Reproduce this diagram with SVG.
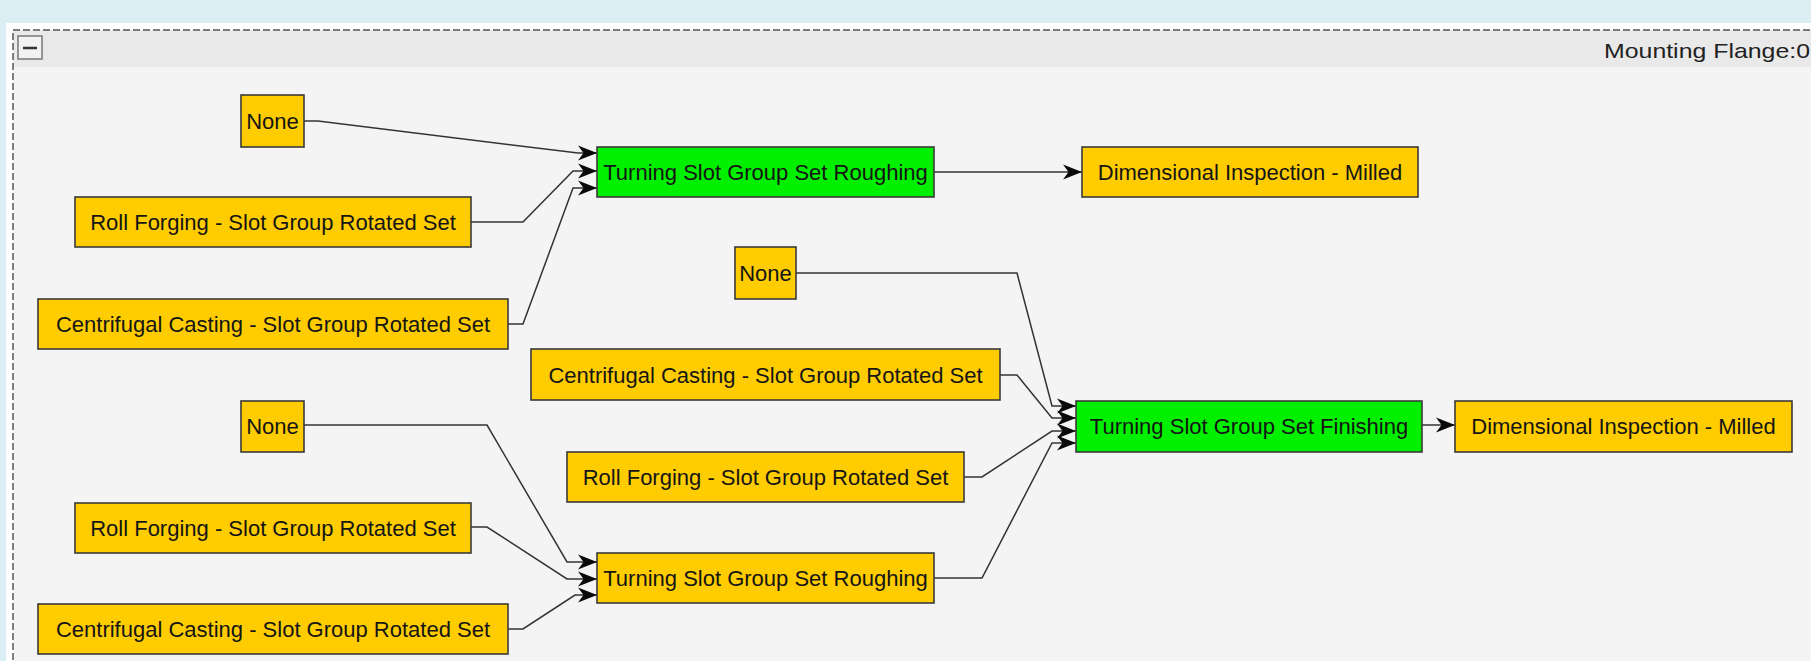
<svg xmlns="http://www.w3.org/2000/svg" width="1811" height="661" viewBox="0 0 1811 661">
<style>
.n rect{stroke:#3a3a3a;stroke-width:1.6}
.y rect{fill:#ffcc00}
.g rect{fill:#00f000}
.n text{font-family:"Liberation Sans",Arial,sans-serif;font-size:22px;fill:#151515;text-anchor:middle}
#edges path{fill:none;stroke:#333;stroke-width:1.5;marker-end:url(#arr)}
</style>
<defs>
<marker id="arr" markerWidth="20" markerHeight="18" refX="19" refY="9" orient="auto" markerUnits="userSpaceOnUse">
<path d="M0,1.5 L19,9 L0,16.5 L5.5,9 Z" fill="#0a0a0a"/>
</marker>
</defs>
<rect x="0" y="0" width="1811" height="661" fill="#dbeef4"/>
<rect x="6" y="23" width="1820" height="650" fill="#ffffff"/>
<g id="container">
<rect x="13" y="30" width="1820" height="650" fill="#f4f4f4"/>
<rect x="13" y="30" width="1820" height="37" fill="#e9e9e9"/>
<rect x="13" y="30" width="1820" height="650" fill="none" stroke="#555" stroke-width="1.5" stroke-dasharray="7,3"/>
<rect x="18" y="36" width="24" height="23" fill="#f2f2f2" stroke="#777" stroke-width="1.5"/>
<line x1="23" y1="48" x2="37" y2="48" stroke="#333" stroke-width="2.5"/>
<text x="1604" y="58" font-family="'Liberation Sans',Arial,sans-serif" font-size="21" fill="#222" textLength="206" lengthAdjust="spacingAndGlyphs">Mounting Flange:0</text>
</g>
<g id="edges">
<path d="M304,121 L318,121 L578,153 L597,153"/>
<path d="M471,222 L523,222 L573,171 L597,171"/>
<path d="M508,324 L523,324 L573,188 L597,188"/>
<path d="M934,172 L1082,172"/>
<path d="M304,425 L487,425 L567,562 L597,562"/>
<path d="M471,527 L487,527 L567,579 L597,579"/>
<path d="M508,629 L523,629 L575,595 L597,595"/>
<path d="M796,273 L1017,273 L1052,406 L1076,406"/>
<path d="M1000,375 L1017,375 L1052,418 L1076,418"/>
<path d="M964,477 L982,477 L1052,431 L1076,431"/>
<path d="M934,578 L982,578 L1052,443 L1076,443"/>
<path d="M1422,425 L1455,425"/>
</g>
<g id="none1" class="n y"><rect x="241" y="95" width="63" height="52"/><text x="272.5" y="129">None</text></g>
<g id="roll1" class="n y"><rect x="75" y="197" width="396" height="50"/><text x="273" y="230">Roll Forging - Slot Group Rotated Set</text></g>
<g id="cent1" class="n y"><rect x="38" y="299" width="470" height="50"/><text x="273" y="332">Centrifugal Casting - Slot Group Rotated Set</text></g>
<g id="rough1" class="n g"><rect x="597" y="147" width="337" height="50"/><text x="765.5" y="180">Turning Slot Group Set Roughing</text></g>
<g id="dim1" class="n y"><rect x="1082" y="147" width="336" height="50"/><text x="1250" y="180">Dimensional Inspection - Milled</text></g>
<g id="none2" class="n y"><rect x="735" y="247" width="61" height="52"/><text x="765.5" y="281">None</text></g>
<g id="cent2" class="n y"><rect x="531" y="349" width="469" height="51"/><text x="765.5" y="383">Centrifugal Casting - Slot Group Rotated Set</text></g>
<g id="roll2" class="n y"><rect x="567" y="452" width="397" height="50"/><text x="765.5" y="485">Roll Forging - Slot Group Rotated Set</text></g>
<g id="rough2" class="n y"><rect x="597" y="553" width="337" height="50"/><text x="765.5" y="586">Turning Slot Group Set Roughing</text></g>
<g id="finish" class="n g"><rect x="1076" y="401" width="346" height="51"/><text x="1249" y="434">Turning Slot Group Set Finishing</text></g>
<g id="dim2" class="n y"><rect x="1455" y="401" width="337" height="51"/><text x="1623.5" y="434">Dimensional Inspection - Milled</text></g>
<g id="none3" class="n y"><rect x="241" y="401" width="63" height="51"/><text x="272.5" y="434">None</text></g>
<g id="roll3" class="n y"><rect x="75" y="503" width="396" height="50"/><text x="273" y="536">Roll Forging - Slot Group Rotated Set</text></g>
<g id="cent3" class="n y"><rect x="38" y="604" width="470" height="50"/><text x="273" y="637">Centrifugal Casting - Slot Group Rotated Set</text></g>
</svg>
